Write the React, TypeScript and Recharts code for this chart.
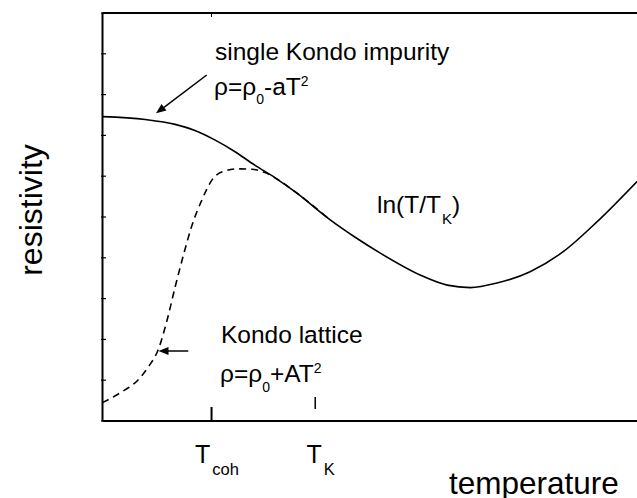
import { ComposedChart, Line, XAxis, YAxis } from "recharts";

// single-impurity curve (solid)
const impurityTemp = [0, 0.8, 1.36, 1.73, 2.1, 2.48, 2.85, 3.23, 3.6, 4.26, 4.72, 5.19, 5.94, 6.45, 6.88, 7.38, 8.0, 8.62, 9.25, 10];
const impurityRho = [7.46, 7.39, 7.27, 7.12, 6.89, 6.6, 6.27, 5.96, 5.62, 4.93, 4.51, 4.12, 3.58, 3.33, 3.27, 3.38, 3.66, 4.15, 4.88, 5.87];

// Kondo lattice curve (dashed)
const latticeTemp = [0, 0.33, 0.66, 0.86, 1.04, 1.21, 1.36, 1.54, 1.67, 1.86, 2.05, 2.24, 2.54, 2.8, 3.04, 3.23, 3.6, 4.26];
const latticeRho = [0.45, 0.69, 1.0, 1.33, 1.74, 2.48, 3.29, 4.19, 4.78, 5.42, 5.91, 6.11, 6.18, 6.17, 6.09, 5.96, 5.62, 4.93];

const tempTicks = [2.04, 3.98];
const tickMain = ["T", "T"];
const tickSub = ["coh", "K"];
const rhoTicks = [0, 1, 2, 3, 4, 5, 6, 7, 8, 9, 10];

const impurity = impurityTemp.map((t, i) => ({ t, rho: impurityRho[i] }));
const lattice = latticeTemp.map((t, i) => ({ t, rho: latticeRho[i] }));

const FONT = "'Liberation Sans', Arial, Helvetica, sans-serif";

const RhoTick = (props: any) => (
  <line x1={props.x - 1.5} x2={props.x + 3.5} y1={props.y} y2={props.y} stroke="#000" strokeWidth={1.2} />
);

const TempTick = (props: any) => {
  const { x, y, payload } = props;
  const i = tempTicks.indexOf(payload.value);
  const floating = i === 1;
  return (
    <g>
      <line
        x1={x}
        x2={x}
        y1={floating ? y - 24 : y - 14}
        y2={floating ? y - 12 : y}
        stroke="#000"
        strokeWidth={floating ? 1.5 : 2}
      />
      <text x={x + 5.5} y={y + 42} textAnchor="middle" fontFamily={FONT} fontSize={25} fill="#000">
        {tickMain[i]}
        <tspan fontSize={16.5} dx={2} dy={12}>
          {tickSub[i]}
        </tspan>
      </text>
    </g>
  );
};

const TopTick = (props: any) => (
  <line x1={props.x} x2={props.x} y1={props.y} y2={props.y + 4} stroke="#000" strokeWidth={1} />
);

function Notes() {
  return (
    <g fontFamily={FONT} fill="#000">
      <text x={215} y={60} fontSize={24.5}>single Kondo impurity</text>
      <text x={214} y={95} fontSize={24.5}>
        ρ=ρ<tspan fontSize={14} dy={9}>0</tspan>
        <tspan dy={-9}>-aT</tspan>
        <tspan fontSize={14} dy={-9}>2</tspan>
      </text>
      <line x1={206.7} y1={75} x2={164} y2={107.3} stroke="#000" strokeWidth={1.5} />
      <polygon points="156,113.3 166.4,110.5 161.6,104.1" fill="#000" />

      <text x={221} y={343} fontSize={24.5}>Kondo lattice</text>
      <text x={220} y={381.5} fontSize={24.5}>
        ρ=ρ<tspan fontSize={14} dy={10}>0</tspan>
        <tspan dy={-10}>+AT</tspan>
        <tspan fontSize={14} dy={-9}>2</tspan>
      </text>
      <line x1={188.3} y1={351} x2={167} y2={351} stroke="#000" strokeWidth={1.5} />
      <polygon points="158.5,351 168.5,347 168.5,355" fill="#000" />

      <text x={377} y={213} fontSize={24.5}>
        ln(T/T<tspan fontSize={15} dx={1} dy={11}>K</tspan>
        <tspan dy={-11}>)</tspan>
      </text>

      <text x={449} y={494} fontSize={31.5}>temperature</text>
      <text x={42} y={210} fontSize={32} textAnchor="middle" transform="rotate(-90 42 210)">
        resistivity
      </text>
    </g>
  );
}

export default function App() {
  return (
    <div style={{ position: "absolute", left: 0, top: 0, width: 637, height: 498, background: "#fff" }}>
      <ComposedChart width={637} height={498} margin={{ top: 12, right: 0, bottom: 76, left: 101.5 }}>
        <XAxis
          xAxisId="bottom"
          type="number"
          dataKey="t"
          domain={[0, 10]}
          allowDataOverflow
          ticks={tempTicks}
          interval={0}
          height={1}
          tickSize={0}
          tickMargin={0}
          tickLine={false}
          axisLine={{ stroke: "#000", strokeWidth: 2 }}
          tick={<TempTick />}
        />
        <XAxis
          xAxisId="top"
          orientation="top"
          type="number"
          dataKey="t"
          domain={[0, 10]}
          allowDataOverflow
          ticks={[tempTicks[0]]}
          interval={0}
          height={1}
          tickSize={0}
          tickMargin={0}
          tickLine={false}
          axisLine={{ stroke: "#000", strokeWidth: 2 }}
          tick={<TopTick />}
        />
        <YAxis
          type="number"
          dataKey="rho"
          domain={[0, 10]}
          allowDataOverflow
          ticks={rhoTicks}
          interval={0}
          width={1}
          tickSize={0}
          tickMargin={0}
          tickLine={false}
          axisLine={{ stroke: "#000", strokeWidth: 2 }}
          tick={<RhoTick />}
        />
        <Line
          xAxisId="bottom"
          data={impurity}
          dataKey="rho"
          type="monotone"
          stroke="#000"
          strokeWidth={1.6}
          dot={false}
          activeDot={false}
          isAnimationActive={false}
        />
        <Line
          xAxisId="bottom"
          data={lattice}
          dataKey="rho"
          type="monotone"
          stroke="#000"
          strokeWidth={1.6}
          strokeDasharray="7 5"
          dot={false}
          activeDot={false}
          isAnimationActive={false}
        />
        <Notes />
      </ComposedChart>
    </div>
  );
}
